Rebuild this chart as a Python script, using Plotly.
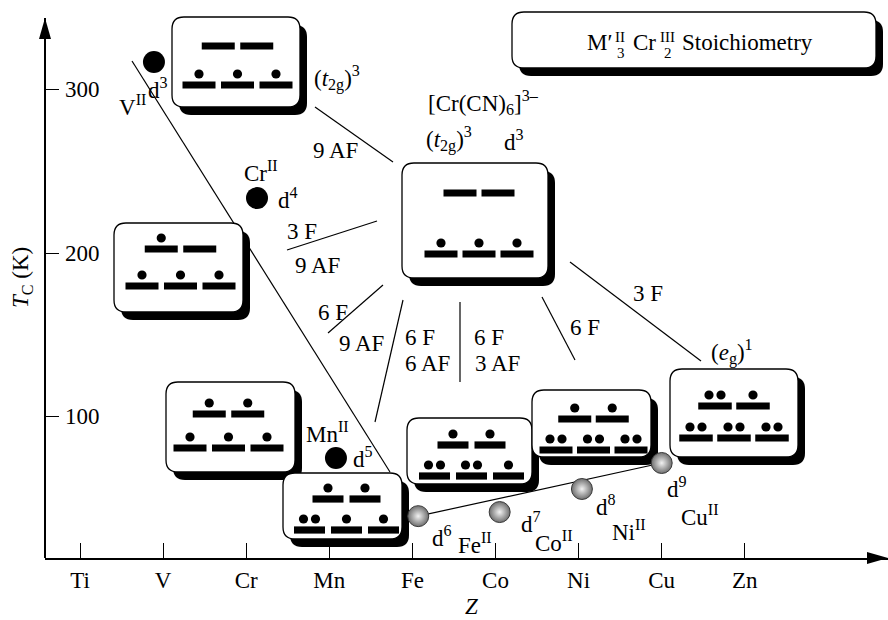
import plotly.graph_objects as go

# ---------------- data ----------------
elements = ["Ti", "V", "Cr", "Mn", "Fe", "Co", "Ni", "Cu", "Zn"]
z_numbers = [22, 23, 24, 25, 26, 27, 28, 29, 30]
y_ticks = [100, 200, 300]

ions = ["V", "Cr", "Mn", "Fe", "Co", "Ni", "Cu"]
ion_z = [22.89, 24.13, 25.08, 26.07, 27.05, 28.04, 29.00]   # plotted Z positions
tc = [316.8, 233.6, 74.6, 39.1, 41.6, 55.7, 71.6]            # T_C (K)
d_count = [3, 4, 5, 6, 7, 8, 9]
t2g_occ = [[1, 1, 1], [1, 1, 1], [1, 1, 1], [2, 1, 1], [2, 2, 1], [2, 2, 2], [2, 2, 2]]
eg_occ = [[0, 0], [1, 0], [1, 1], [1, 1], [1, 1], [1, 1], [2, 1]]
cr3_t2g = [1, 1, 1]
cr3_eg = [0, 0]

# ---------------- geometry helpers ----------------
W, H = 888, 620
ML, MR, MT, MB = 45, 0, 8, 62
PW, PH = W - ML - MR, H - MT - MB
Z0 = 22 - 35 / 83.1
Z1 = Z0 + PW / 83.1
T0 = 13.5
T1 = T0 + PH / 1.6352


def at(px, py):
    """pixel position in the 888x620 frame -> data coords"""
    return (Z0 + (px - ML) * (Z1 - Z0) / PW, T0 + (MT + PH - py) * (T1 - T0) / PH)


def paper(px, py):
    return ((px - ML) / PW, (MT + PH - py) / PH)


def rrect(x0, y0, x1, y1, r):
    return (f"M{x0 + r},{y0} L{x1 - r},{y0} Q{x1},{y0} {x1},{y0 + r} "
            f"L{x1},{y1 - r} Q{x1},{y1} {x1 - r},{y1} L{x0 + r},{y1} "
            f"Q{x0},{y1} {x0},{y1 - r} L{x0},{y0 + r} Q{x0},{y0} {x0 + r},{y0} Z")


FONT = "Liberation Serif"
FS = 23
fig = go.Figure()
shapes = []
annos = []


def line_px(p, q, width=1.2):
    a, b = at(*p), at(*q)
    shapes.append(dict(type="line", xref="x", yref="y", x0=a[0], y0=a[1], x1=b[0], y1=b[1],
                       line=dict(color="black", width=width), layer="below"))


def add_box(center_px, spec, t2g, eg):
    zc, tcen = at(*center_px)
    w, h = spec["w"], spec["h"]
    common = dict(xref="x", yref="y", xsizemode="pixel", ysizemode="pixel",
                  xanchor=zc, yanchor=tcen, layer="below")
    shapes.append(dict(type="path", path=rrect(-w / 2 + 7, -h / 2 - 8, w / 2 + 7, h / 2 - 8, 12),
                       fillcolor="black", line=dict(width=0), **common))
    shapes.append(dict(type="path", path=rrect(-w / 2, -h / 2, w / 2, h / 2, 12),
                       fillcolor="white", line=dict(color="black", width=1.3), **common))
    bw, gap = spec["bw"], spec["gap"]
    for occ, dy in ((t2g, spec["t2g"]), (eg, spec["eg"])):
        n = len(occ)
        total = n * bw + (n - 1) * gap
        x = -total / 2 + spec["dx"]
        yc = -dy
        for k in range(n):
            x0 = x + k * (bw + gap)
            shapes.append(dict(type="rect", x0=x0, x1=x0 + bw, y0=yc - 3.6, y1=yc + 3.6,
                               fillcolor="black", line=dict(width=0), **common))
            cx = x0 + bw / 2
            offs = {0: [], 1: [0], 2: [-6, 6]}[occ[k]]
            for o in offs:
                shapes.append(dict(type="circle", x0=cx + o - 4.6, x1=cx + o + 4.6,
                                   y0=yc + 11 - 4.6, y1=yc + 11 + 4.6,
                                   fillcolor="black", line=dict(width=0), **common))


def text_px(px, py, txt, size=FS, xanchor="center", yanchor="middle", angle=0):
    x, y = paper(px, py)
    annos.append(dict(x=x, y=y, xref="paper", yref="paper", text=txt, showarrow=False,
                      xanchor=xanchor, yanchor=yanchor, textangle=angle,
                      font=dict(family=FONT, size=size, color="black")))


# ---------------- lines (below boxes) ----------------
line_px((132, 61), (390, 472))     # trend V -> Mn
line_px((315, 107), (393, 162))    # 9 AF
line_px((287, 250), (377, 221))    # 3 F / 9 AF
line_px((328, 333), (383, 285))    # 6 F / 9 AF
line_px((403, 300), (375, 422))    # 6 F 6 AF
line_px((460, 302), (460, 382))    # divider
line_px((542, 297), (575, 360))    # 6 F
line_px((570, 262), (701, 361))    # 3 F
# trend Fe -> Cu through data
shapes.append(dict(type="line", xref="x", yref="y", x0=ion_z[3], y0=tc[3], x1=ion_z[6], y1=tc[6],
                   line=dict(color="black", width=1.2), layer="below"))

# ---------------- energy level boxes ----------------
box_specs = {
    "V":  dict(c=(236, 62),    w=128, h=90, eg=-16,   t2g=23,   dx=1.5, bw=33, gap=5.5),
    "Cr": dict(c=(178.5, 267.5), w=129, h=89, eg=-18.5, t2g=18.5, dx=2, bw=33, gap=5.5),
    "Mn": dict(c=(230.5, 427), w=129, h=90, eg=-13,   t2g=21,   dx=-2, bw=33, gap=5.5),
    "Fe": dict(c=(342.5, 506), w=119, h=66, eg=-7,    t2g=24,   dx=4, bw=31, gap=6),
    "Co": dict(c=(469.5, 451), w=125, h=66, eg=-6,    t2g=25,   dx=2, bw=31, gap=6),
    "Ni": dict(c=(591.5, 423.5), w=119, h=67, eg=-4.5, t2g=26.5, dx=2, bw=33, gap=4.5),
    "Cu": dict(c=(734, 413),   w=128, h=88, eg=-7,    t2g=25,   dx=0, bw=33.5, gap=4.5),
}
for i, ion in enumerate(ions):
    s = box_specs[ion]
    add_box(s["c"], s, t2g_occ[i], eg_occ[i])
add_box((475, 220.5), dict(w=146, h=115, eg=-27.5, t2g=33.5, dx=4, bw=33, gap=5), cr3_t2g, cr3_eg)

# ---------------- stoichiometry box (paper refs) ----------------
sx, sy = paper(694, 40)
common = dict(xref="paper", yref="paper", xsizemode="pixel", ysizemode="pixel", xanchor=sx, yanchor=sy)
shapes.append(dict(type="path", path=rrect(-182 + 7, -28 - 8, 182 + 7, 28 - 8, 12),
                   fillcolor="black", line=dict(width=0), **common))
shapes.append(dict(type="path", path=rrect(-182, -28, 182, 28, 12),
                   fillcolor="white", line=dict(color="black", width=1.3), **common))

text_px(599, 43, "M′")
text_px(620, 37, "II", size=15)
text_px(621, 53, "3", size=15)
text_px(644, 43, "Cr")
text_px(667, 37, "III", size=15)
text_px(668, 53, "2", size=15)
text_px(680, 43, "Stoichiometry", xanchor="left")

# ---------------- axes decorations ----------------
top = paper(45, 18)[1]
shapes.append(dict(type="line", xref="paper", yref="paper", x0=0, x1=0, y0=0, y1=top,
                   line=dict(color="black", width=2)))
shapes.append(dict(type="path", xref="paper", yref="paper", xsizemode="pixel", ysizemode="pixel",
                   xanchor=0, yanchor=top, path="M0,0 L-6,-21 L6,-21 Z",
                   fillcolor="black", line=dict(width=0)))
shapes.append(dict(type="path", xref="paper", yref="paper", xsizemode="pixel", ysizemode="pixel",
                   xanchor=1, yanchor=0, path="M0,0 L-21,6 L-21,-6 Z",
                   fillcolor="black", line=dict(width=0)))

# y tick labels (drawn inside the plot, right of the tick marks)
for v in y_ticks:
    annos.append(dict(x=paper(102, 0)[0], y=v, xref="paper", yref="y", text=str(v), showarrow=False,
                      xanchor="right", yanchor="middle",
                      font=dict(family=FONT, size=FS, color="black")))

# ---------------- data points ----------------
fig.add_trace(go.Scatter(x=ion_z[:3], y=tc[:3], mode="markers", cliponaxis=False,
                         marker=dict(size=22, color="black"), hoverinfo="skip", showlegend=False))
fig.add_trace(go.Scatter(x=ion_z[3:], y=tc[3:], mode="markers", cliponaxis=False,
                         marker=dict(size=21, color="#6e6e6e", line=dict(color="#3a3a3a", width=1),
                                     gradient=dict(type="radial", color="#f2f2f2")),
                         hoverinfo="skip", showlegend=False))

# point labels (pixel offsets from the point: dx right, dy down)
label_offsets = {
    "V":  ((-21, 43), (4, 26)),
    "Cr": ((3.5, -27), (30.5, 0)),
    "Mn": ((-8.5, -26), (27, -1)),
    "Fe": ((57, 27), (24, 20)),
    "Co": ((54, 29), (31, 10)),
    "Ni": ((47, 42), (24, 17)),
    "Cu": ((38, 53), (15, 25)),
}
for i, ion in enumerate(ions):
    (ix, iy), (dx, dy) = label_offsets[ion]
    for txt, ox, oy in ((f"{ion}<sup>II</sup>", ix, iy), (f"d<sup>{d_count[i]}</sup>", dx, dy)):
        annos.append(dict(x=ion_z[i], y=tc[i], xref="x", yref="y", text=txt, showarrow=False,
                          xshift=ox, yshift=-oy, xanchor="center", yanchor="middle",
                          font=dict(family=FONT, size=FS, color="black")))

# ---------------- coupling / box captions ----------------
text_px(337, 78, "(<i>t</i><sub>2g</sub>)<sup>3</sup>")
text_px(483, 102, "[Cr(CN)<sub>6</sub>]<sup>3–</sup>")
text_px(449, 139, "(<i>t</i><sub>2g</sub>)<sup>3</sup>")
text_px(514, 140, "d<sup>3</sup>")
text_px(732, 352, "(<i>e</i><sub>g</sub>)<sup>1</sup>")
text_px(335, 150, "9 AF")
text_px(302, 232, "3 F")
text_px(317, 265, "9 AF")
text_px(333, 312, "6 F")
text_px(361, 344, "9 AF")
text_px(403, 337, "6 F", xanchor="left")
text_px(403, 363, "6 AF", xanchor="left")
text_px(472, 337, "6 F", xanchor="left")
text_px(473, 363, "3 AF", xanchor="left")
text_px(585, 327, "6 F")
text_px(648, 293, "3 F")

# axis titles
text_px(22, 278, "<i>T</i><sub>C</sub> (K)", angle=-90)
text_px(471, 606, "<i>Z</i>")

fig.update_layout(
    width=W, height=H, margin=dict(l=ML, r=MR, t=MT, b=MB, autoexpand=False),
    paper_bgcolor="white", plot_bgcolor="white",
    shapes=shapes, annotations=annos, showlegend=False,
    font=dict(family=FONT, size=FS, color="black"),
    xaxis=dict(range=[Z0, Z1], tickvals=z_numbers, ticktext=elements, ticks="inside",
               ticklen=15, tickwidth=1.3, tickcolor="black", showline=True, linecolor="black",
               linewidth=2, showgrid=False, zeroline=False, automargin=False,
               tickfont=dict(family=FONT, size=FS, color="black")),
    yaxis=dict(range=[T0, T1], tickvals=y_ticks, ticks="inside", ticklen=14, tickwidth=1.3,
               tickcolor="black", showticklabels=False, showline=False, showgrid=False,
               zeroline=False, automargin=False),
)

fig.write_html("out.html")
